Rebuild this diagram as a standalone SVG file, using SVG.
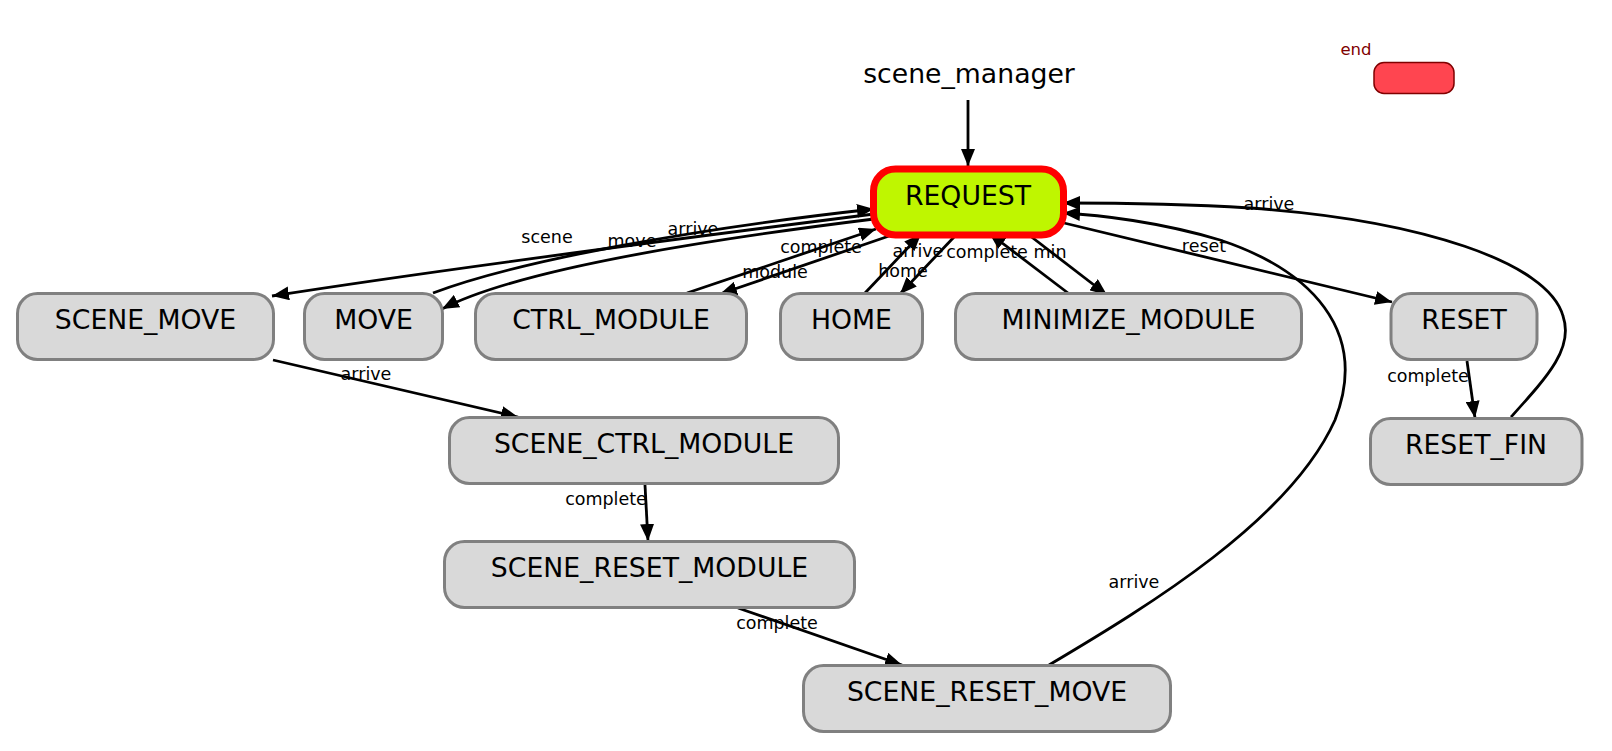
<svg xmlns="http://www.w3.org/2000/svg" width="1612" height="751" viewBox="0 0 1612 751">
<style>
.node rect{fill:#d9d9d9;stroke:#808080;stroke-width:3}
.nt{font-family:"DejaVu Sans",sans-serif;font-size:26.7px;fill:#000;text-anchor:middle}
.el{font-family:"DejaVu Sans",sans-serif;font-size:17.5px;fill:#000;text-anchor:middle}
.e{fill:none;stroke:#000;stroke-width:2.8;marker-end:url(#ah)}
</style>
<defs>
<marker id="ah" markerUnits="userSpaceOnUse" markerWidth="18" markerHeight="14" refX="17" refY="7" orient="auto">
<path d="M0,0 L17,7 L0,14 z" fill="#000"/>
</marker>
</defs>
<rect width="1612" height="751" fill="#fff"/>
<g id="connectors">
<path class="e" d="M968,100 L968,166"/>
<path class="e" d="M874,214 C700,236 450,268 272,296"/>
<text class="el" x="547" y="243">scene</text>
<path class="e" d="M874,219 C720,238 520,268 442,309"/>
<text class="el" x="632" y="247">move</text>
<path class="e" d="M433,293 C520,260 700,228 874,209"/>
<text class="el" x="693" y="235">arrive</text>
<path class="e" d="M892,235 L720,294"/>
<text class="el" x="775" y="278">module</text>
<path class="e" d="M687,293 L876,229"/>
<text class="el" x="821" y="253">complete</text>
<path class="e" d="M865,293 L921,234"/>
<text class="el" x="918" y="257">arrive</text>
<path class="e" d="M955,236 L900,294"/>
<text class="el" x="903" y="277">home</text>
<path class="e" d="M1068,293 L989,233"/>
<text class="el" x="987" y="258">complete</text>
<path class="e" d="M1029,235 L1107,295"/>
<text class="el" x="1050" y="258">min</text>
<path class="e" d="M1064,223 L1392,302"/>
<text class="el" x="1204" y="252">reset</text>
<path class="e" d="M1467,361 L1475,418"/>
<text class="el" x="1428" y="382">complete</text>
<path class="e" d="M1511,417 C1548,376 1574,348 1563,316 C1548,262 1420,220 1250,208 C1170,203 1100,203 1063,203"/>
<text class="el" x="1269" y="210">arrive</text>
<path class="e" d="M273,360 L518,417"/>
<text class="el" x="366" y="380">arrive</text>
<path class="e" d="M645,485 L648,541"/>
<text class="el" x="606" y="505">complete</text>
<path class="e" d="M738,608 L902,665"/>
<text class="el" x="777" y="629">complete</text>
<path class="e" d="M1049,665 C1150,605 1290,520 1335,420 C1370,330 1310,270 1220,240 C1160,222 1100,215 1063,213"/>
<text class="el" x="1134" y="588">arrive</text>
</g>
<g id="scene_manager">
<text class="nt" x="969" y="83">scene_manager</text>
</g>
<g id="end">
<text x="1356" y="55" font-family="DejaVu Sans, sans-serif" font-size="16.5" fill="#800000" text-anchor="middle">end</text>
<rect x="1374" y="62.5" width="80" height="31" rx="10" fill="#ff4550" stroke="#800000" stroke-width="1.5"/>
</g>
<g id="REQUEST">
<rect x="873.5" y="169" width="190" height="66" rx="22" fill="#bff600" stroke="#ff0000" stroke-width="7"/>
<text class="nt" x="968" y="205">REQUEST</text>
</g>
<g id="SCENE_MOVE" class="node">
<rect x="17.5" y="293.5" width="256" height="66" rx="20"/>
<text class="nt" x="145.5" y="329">SCENE_MOVE</text>
</g>
<g id="MOVE" class="node">
<rect x="304.5" y="293.5" width="138" height="66" rx="20"/>
<text class="nt" x="373.5" y="329">MOVE</text>
</g>
<g id="CTRL_MODULE" class="node">
<rect x="475.5" y="293.5" width="271" height="66" rx="20"/>
<text class="nt" x="611" y="329">CTRL_MODULE</text>
</g>
<g id="HOME" class="node">
<rect x="780.5" y="293.5" width="142" height="66" rx="20"/>
<text class="nt" x="851.5" y="329">HOME</text>
</g>
<g id="MINIMIZE_MODULE" class="node">
<rect x="955.5" y="293.5" width="346" height="66" rx="20"/>
<text class="nt" x="1128.5" y="329">MINIMIZE_MODULE</text>
</g>
<g id="RESET" class="node">
<rect x="1391" y="293.5" width="146" height="66" rx="20"/>
<text class="nt" x="1464" y="329">RESET</text>
</g>
<g id="RESET_FIN" class="node">
<rect x="1370.5" y="418.5" width="211.5" height="66" rx="20"/>
<text class="nt" x="1476" y="454">RESET_FIN</text>
</g>
<g id="SCENE_CTRL_MODULE" class="node">
<rect x="449.5" y="417.5" width="389" height="66" rx="20"/>
<text class="nt" x="644" y="453">SCENE_CTRL_MODULE</text>
</g>
<g id="SCENE_RESET_MODULE" class="node">
<rect x="444.5" y="541.5" width="410" height="66" rx="20"/>
<text class="nt" x="649.5" y="577">SCENE_RESET_MODULE</text>
</g>
<g id="SCENE_RESET_MOVE" class="node">
<rect x="803.5" y="665.5" width="367" height="66" rx="20"/>
<text class="nt" x="987" y="701">SCENE_RESET_MOVE</text>
</g>
</svg>
